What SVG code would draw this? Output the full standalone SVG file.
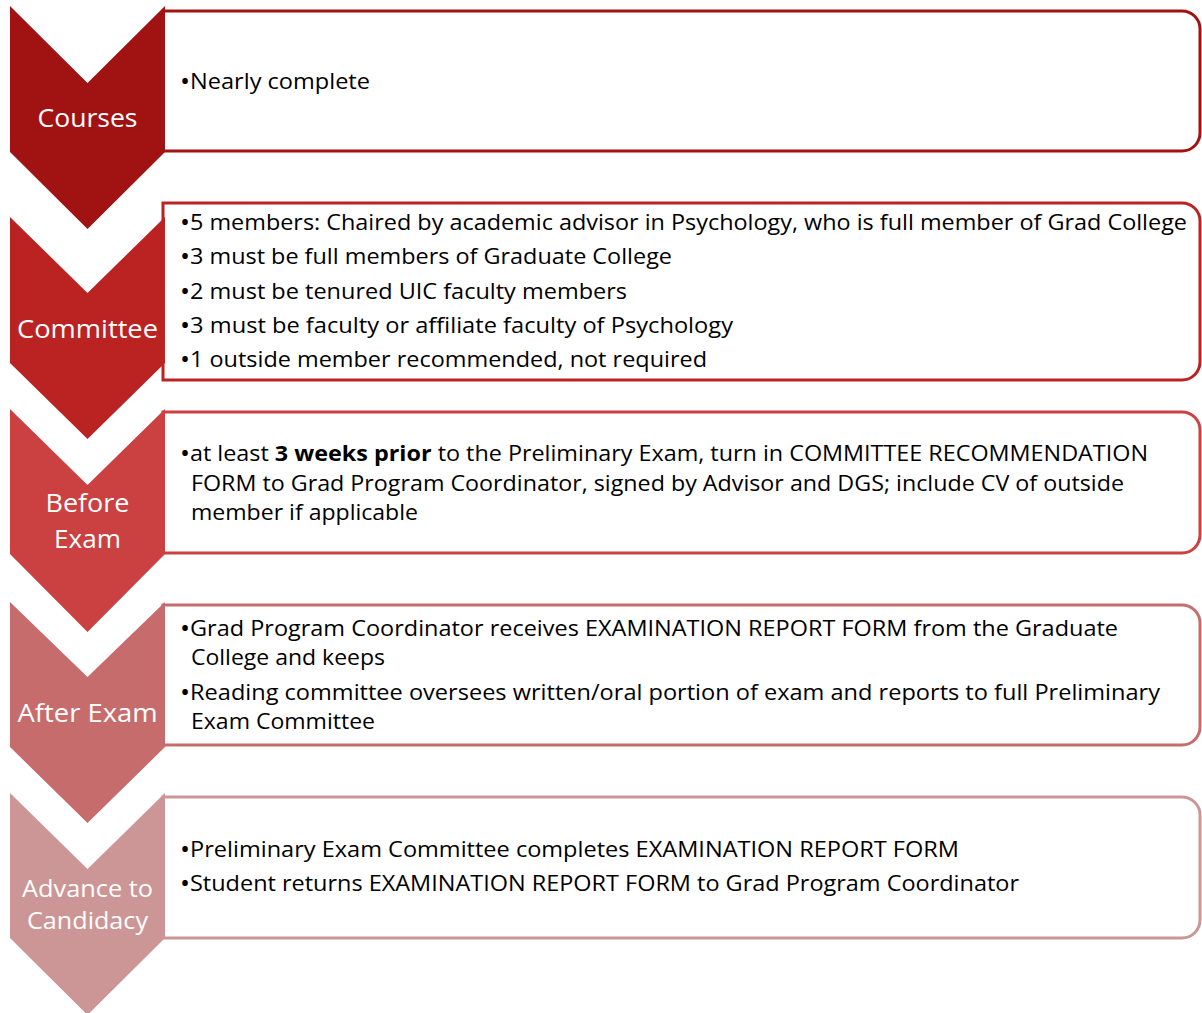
<svg xmlns="http://www.w3.org/2000/svg" width="1202" height="1013" viewBox="0 0 1202 1013">
<style>
.box{fill:#fff;stroke-width:3}
.lbl{font-family:"Open Sans","Liberation Sans",sans-serif;font-size:26px;fill:#fff;text-anchor:middle}
.sm{font-size:24px}
.t{font-family:"Open Sans","Liberation Sans",sans-serif;font-size:22px;fill:#000}
.b{font-weight:bold}
.u{font-size:25px}
</style>
<rect width="1202" height="1013" fill="#fff"/>
<g id="courses">
<path class="box" stroke="#A11313" d="M163,11 H1182 A18,18 0 0 1 1200,29 V133 A18,18 0 0 1 1182,151 H163 Z"/>
<polygon fill="#A11313" points="10,6 87.5,83 165,6 165,152 87.5,229 10,152"/>
<text class="lbl" x="87.5" y="127" textLength="100" lengthAdjust="spacingAndGlyphs">Courses</text>
<text class="t" x="180" y="89" textLength="190" lengthAdjust="spacingAndGlyphs"><tspan class="u" dy="1">•</tspan><tspan dy="-1">Nearly complete</tspan></text>
</g>
<g id="committee">
<path class="box" stroke="#BB2222" d="M163,203 H1182 A18,18 0 0 1 1200,221 V362 A18,18 0 0 1 1182,380 H163 Z"/>
<polygon fill="#BB2222" points="10,217 87.5,293 165,217 165,363 87.5,439 10,363"/>
<text class="lbl" x="87.5" y="338" textLength="141" lengthAdjust="spacingAndGlyphs">Committee</text>
<text class="t" x="180" y="230" textLength="1007" lengthAdjust="spacingAndGlyphs"><tspan class="u" dy="1">•</tspan><tspan dy="-1">5 members: Chaired by academic advisor in Psychology, who is full member of Grad College</tspan></text>
<text class="t" x="180" y="264" textLength="492" lengthAdjust="spacingAndGlyphs"><tspan class="u" dy="1">•</tspan><tspan dy="-1">3 must be full members of Graduate College</tspan></text>
<text class="t" x="180" y="299" textLength="447" lengthAdjust="spacingAndGlyphs"><tspan class="u" dy="1">•</tspan><tspan dy="-1">2 must be tenured UIC faculty members</tspan></text>
<text class="t" x="180" y="333" textLength="553" lengthAdjust="spacingAndGlyphs"><tspan class="u" dy="1">•</tspan><tspan dy="-1">3 must be faculty or affiliate faculty of Psychology</tspan></text>
<text class="t" x="180" y="367" textLength="527" lengthAdjust="spacingAndGlyphs"><tspan class="u" dy="1">•</tspan><tspan dy="-1">1 outside member recommended, not required</tspan></text>
</g>
<g id="before-exam">
<path class="box" stroke="#CB4040" d="M163,412 H1182 A18,18 0 0 1 1200,430 V535 A18,18 0 0 1 1182,553 H163 Z"/>
<polygon fill="#CB4040" points="10,409 87.5,485 165,409 165,554 87.5,632 10,554"/>
<text class="lbl" x="87.5" y="512" textLength="84" lengthAdjust="spacingAndGlyphs">Before</text>
<text class="lbl" x="87.5" y="548" textLength="67" lengthAdjust="spacingAndGlyphs">Exam</text>
<text class="t" x="180" y="461" textLength="968" lengthAdjust="spacingAndGlyphs"><tspan class="u" dy="1">•</tspan><tspan dy="-1">at least </tspan><tspan class="b">3 weeks prior</tspan> to the Preliminary Exam, turn in COMMITTEE RECOMMENDATION</text>
<text class="t" x="191" y="491" textLength="933" lengthAdjust="spacingAndGlyphs">FORM to Grad Program Coordinator, signed by Advisor and DGS; include CV of outside</text>
<text class="t" x="191" y="520" textLength="227" lengthAdjust="spacingAndGlyphs">member if applicable</text>
</g>
<g id="after-exam">
<path class="box" stroke="#C76C6C" d="M163,605 H1182 A18,18 0 0 1 1200,623 V727 A18,18 0 0 1 1182,745 H163 Z"/>
<polygon fill="#C76C6C" points="10,602 87.5,677 165,602 165,747 87.5,823 10,747"/>
<text class="lbl" x="87.5" y="722" textLength="140" lengthAdjust="spacingAndGlyphs">After Exam</text>
<text class="t" x="180" y="636" textLength="938" lengthAdjust="spacingAndGlyphs"><tspan class="u" dy="1">•</tspan><tspan dy="-1">Grad Program Coordinator receives EXAMINATION REPORT FORM from the Graduate</tspan></text>
<text class="t" x="191" y="665" textLength="194" lengthAdjust="spacingAndGlyphs">College and keeps</text>
<text class="t" x="180" y="700" textLength="980" lengthAdjust="spacingAndGlyphs"><tspan class="u" dy="1">•</tspan><tspan dy="-1">Reading committee oversees written/oral portion of exam and reports to full Preliminary</tspan></text>
<text class="t" x="191" y="729" textLength="184" lengthAdjust="spacingAndGlyphs">Exam Committee</text>
</g>
<g id="advance-to-candidacy">
<path class="box" stroke="#CC9696" d="M163,797 H1182 A18,18 0 0 1 1200,815 V920 A18,18 0 0 1 1182,938 H163 Z"/>
<polygon fill="#CC9696" points="10,793 87.5,869 165,793 165,938 87.5,1015 10,938"/>
<text class="lbl sm" x="87.5" y="897" textLength="131" lengthAdjust="spacingAndGlyphs">Advance to</text>
<text class="lbl sm" x="87.5" y="929" textLength="121" lengthAdjust="spacingAndGlyphs">Candidacy</text>
<text class="t" x="180" y="857" textLength="779" lengthAdjust="spacingAndGlyphs"><tspan class="u" dy="1">•</tspan><tspan dy="-1">Preliminary Exam Committee completes EXAMINATION REPORT FORM</tspan></text>
<text class="t" x="180" y="891" textLength="839" lengthAdjust="spacingAndGlyphs"><tspan class="u" dy="1">•</tspan><tspan dy="-1">Student returns EXAMINATION REPORT FORM to Grad Program Coordinator</tspan></text>
</g>
<g id="connectors"/>
</svg>
